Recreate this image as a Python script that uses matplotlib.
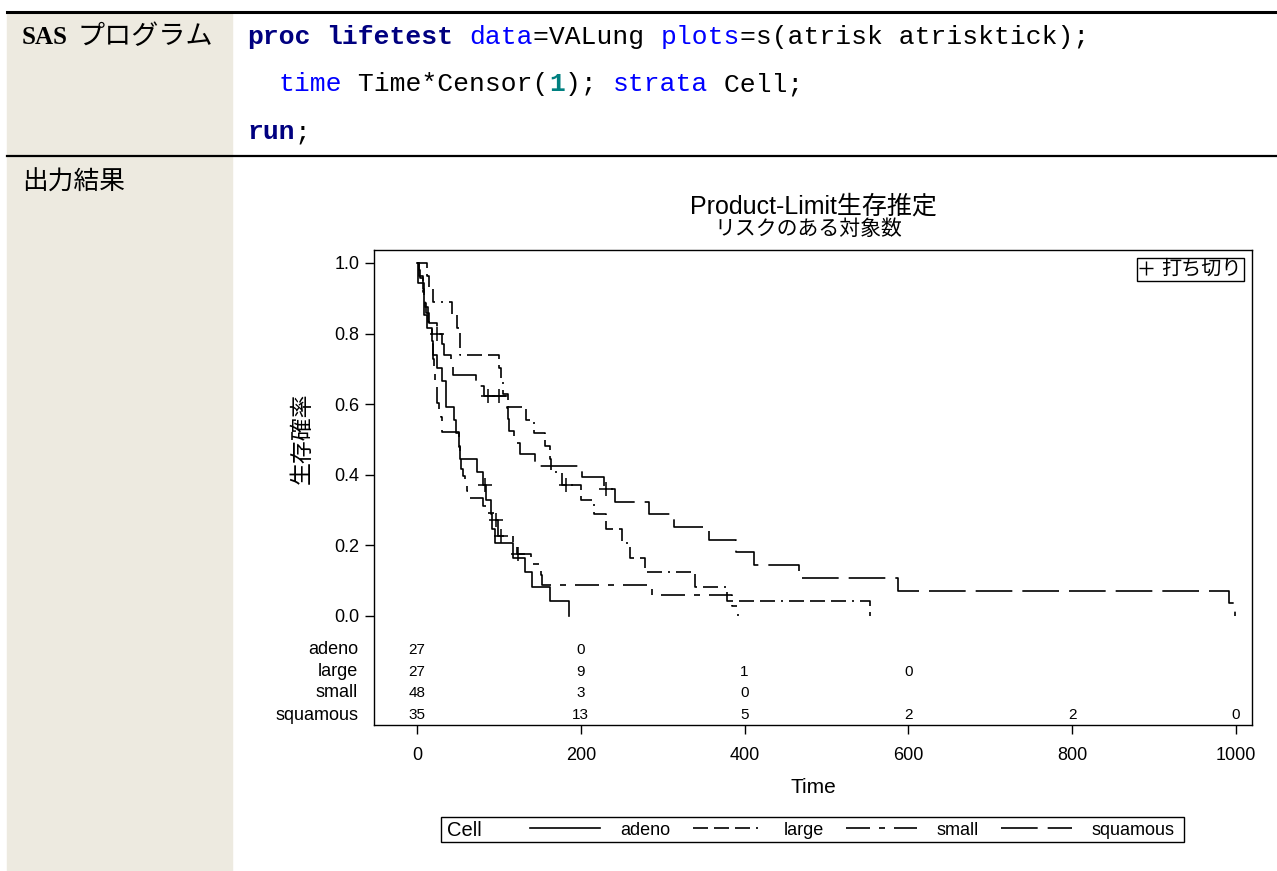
### VALung Product-Limit 生存推定 図 ###

import matplotlib.pyplot as plt
from matplotlib.lines import Line2D
from matplotlib.patches import Rectangle

plt.rcParams['font.family'] = ['Liberation Sans', 'Noto Sans CJK JP']

W, H = 1277, 871
def fx(x): return x / W
def fy(y): return 1 - y / H

# 各層の生存曲線 (時点, 生存率)
adeno_t = [0, 3, 7, 8, 12, 18, 19, 24, 31, 35, 36, 45, 48, 51, 52, 73, 80, 84, 90, 92,
           95, 117, 132, 140, 162, 186]
adeno_s = [1.0, .9630, .9259, .8519, .8148, .7778, .7407, .7037, .6667, .6296, .5926, .5556,
           .5185, .4815, .4444, .4074, .3704, .3292, .2881, .2469, .2058, .1646, .1235,
           .0823, .0412, 0.0]
large_t = [0, 12, 15, 19, 43, 49, 52, 53, 100, 103, 105, 111, 133, 143, 156, 162, 164, 177,
           200, 216, 231, 250, 260, 278, 340, 378, 553]
large_s = [1.0, .9630, .9259, .8889, .8519, .8148, .7778, .7407, .7037, .6667, .6296, .5926,
           .5556, .5185, .4815, .4444, .4074, .3704, .3292, .2881, .2469, .2058, .1646,
           .1235, .0823, .0412, 0.0]
small_t = [0, 2, 4, 7, 8, 10, 13, 16, 18, 20, 21, 22, 24, 25, 27, 29, 30, 31, 51, 52, 54, 56,
           59, 61, 63, 80, 87, 95, 99, 117, 122, 139, 151, 153, 287, 384, 392]
small_s = [1.0, .9792, .9583, .9167, .8958, .8750, .8333, .8125, .7708, .7292, .6875, .6667,
           .6458, .6042, .5833, .5625, .5417, .5208, .4792, .4583, .4167, .3958, .3750,
           .3542, .3333, .3125, .2917, .2708, .2257, .2006, .1755, .1463, .1170, .0878,
           .0585, .0293, 0.0]
squamous_t = [0, 1, 8, 10, 11, 15, 25, 30, 33, 42, 44, 72, 82, 110, 111, 112, 118, 126, 144,
              201, 228, 242, 283, 314, 357, 389, 411, 467, 587, 991, 999]
squamous_s = [1.0, .9429, .9143, .8857, .8571, .8286, .8000, .7704, .7407, .7111, .6815,
              .6519, .6222, .5895, .5567, .5240, .4912, .4585, .4257, .3930, .3602, .3242,
              .2882, .2522, .2161, .1801, .1441, .1081, .0720, .0360, 0.0]

# 打ち切り
adeno_ct, adeno_cs = [83], [.3704]
large_ct, large_cs = [182], [.3704]
small_ct, small_cs = [97, 103, 123], [.2708, .2257, .1755]
squamous_ct, squamous_cs = [25, 87, 100, 231], [.8000, .6222, .6222, .3602]

# リスクのある対象数
risk_x = [0, 200, 400, 600, 800, 1000]
risk_adeno = [27, 0]
risk_large = [27, 9, 1, 0]
risk_small = [48, 3, 0]
risk_squamous = [35, 13, 5, 2, 2, 0]

cells = ['adeno', 'large', 'small', 'squamous']
styles = ['-', (0, (9, 3.6, 9, 3.6, 9, 3.6, 1.2, 3.6)), (0, (14.4, 5.4, 3.6, 5.4)), (0, (22, 6))]
curves = [(adeno_t, adeno_s), (large_t, large_s), (small_t, small_s), (squamous_t, squamous_s)]
cens = [(adeno_ct, adeno_cs), (large_ct, large_cs), (small_ct, small_cs), (squamous_ct, squamous_cs)]
risks = [risk_adeno, risk_large, risk_small, risk_squamous]

fig = plt.figure(figsize=(W / 100, H / 100), dpi=100)

# --- 表の枠 ---
fig.add_artist(Rectangle((fx(7), 0), fx(232) - fx(7), fy(13), color='#EDEAE0', zorder=0))
fig.add_artist(Line2D([fx(7), 1], [fy(12), fy(12)], color='black', lw=2.2))
fig.add_artist(Line2D([fx(7), 1], [fy(156), fy(156)], color='black', lw=1.6))

fig.text(fx(22), fy(37), 'SAS', family='Liberation Serif', weight='bold', fontsize=18, va='center')
fig.text(fx(78), fy(37), 'プログラム', family='Noto Sans CJK JP', fontsize=19.5, va='center')
fig.text(fx(22), fy(183), '出力結果', family='Noto Sans CJK JP', fontsize=18.5, va='center')

# SAS コード
navy, blue, teal = '#000080', '#0000FF', '#008080'
code = [
    [('proc', navy, 'bold'), (' ', 'black', 'normal'), ('lifetest', navy, 'bold'),
     (' ', 'black', 'normal'), ('data', blue, 'normal'), ('=VALung ', 'black', 'normal'),
     ('plots', blue, 'normal'), ('=s(atrisk atrisktick);', 'black', 'normal')],
    [('  ', 'black', 'normal'), ('time', blue, 'normal'), (' Time*Censor(', 'black', 'normal'),
     ('1', teal, 'bold'), ('); ', 'black', 'normal'), ('strata', blue, 'normal'),
     (' Cell;', 'black', 'normal')],
    [('run', navy, 'bold'), (';', 'black', 'normal')],
]
code_y = [37, 84, 132]
for line, y in zip(code, code_y):
    i = 0
    for txt, col, wt in line:
        fig.text(fx(247 + i * 15.9), fy(y), txt, family='Liberation Mono', fontsize=19,
                 color=col, weight=wt, va='center')
        i += len(txt)

# --- グラフ ---
ax = fig.add_axes([fx(374), fy(725), fx(1252) - fx(374), fy(250) - fy(725)])
for (t, s), ls, (ct, cs) in zip(curves, styles, cens):
    ax.step(t, s, where='post', color='black', lw=1.2, linestyle=ls)
    ax.plot(ct, cs, '+', color='black', markersize=10, markeredgewidth=1.1)

ax.set_xlim(-52.5, 1019.5)
ax.set_ylim(-0.3088, 1.0368)
ax.set_xticks([0, 200, 400, 600, 800, 1000])
ax.set_yticks([0.0, 0.2, 0.4, 0.6, 0.8, 1.0])
ax.set_yticklabels(['0.0', '0.2', '0.4', '0.6', '0.8', '1.0'])
ax.tick_params(length=6.5, width=1, labelsize=13, pad=4)
ax.tick_params(axis='x', pad=9.5)
for sp in ax.spines.values():
    sp.set_linewidth(1.0)
ax.set_xlabel('Time', fontsize=15, labelpad=10)
ax.set_ylabel('生存確率', fontsize=16.5)
ax.yaxis.set_label_coords(-0.069, 0.604)

# リスク表
row_y = [-0.0963, -0.1586, -0.2181, -0.2805]
for name, r, y in zip(cells, risks, row_y):
    ax.text(-0.0182, y, name, transform=ax.get_yaxis_transform(), ha='right', va='center',
            fontsize=13)
    for x, n in zip(risk_x, r):
        ax.text(x, y, str(n), ha='center', va='center', fontsize=11)

ax.legend(handles=[Line2D([], [], marker='+', ls='none', color='black', markersize=10)],
          labels=['打ち切り'], loc='upper right', fontsize=14.5, frameon=True, fancybox=False,
          edgecolor='black', framealpha=1, handlelength=0.7, handletextpad=0.4,
          borderpad=0.1, borderaxespad=0.4)

fig.text(fx(813), fy(207), 'Product-Limit生存推定', ha='center', va='center', fontsize=18)
fig.text(fx(808), fy(229), 'リスクのある対象数', ha='center', va='center', fontsize=15)

# 下の凡例
hs = [Line2D([], [], color='black', lw=1.2, linestyle=ls) for ls in styles]
leg = fig.legend(hs, cells, ncol=4, frameon=False, loc='center left',
                 bbox_to_anchor=(fx(521), fy(830)), fontsize=13, handlelength=3.9,
                 handletextpad=1.1, columnspacing=1.25, borderpad=0)
fig.text(fx(447), fy(830), 'Cell', fontsize=14.5, va='center')
fig.canvas.draw()
bb = leg.get_window_extent()
x1 = bb.x1 / W + fx(10)
fig.add_artist(Rectangle((fx(441), fy(842)), x1 - fx(441), fy(817) - fy(842),
                         fill=False, edgecolor='black', lw=1.0))

plt.savefig('out.png', dpi=100)
